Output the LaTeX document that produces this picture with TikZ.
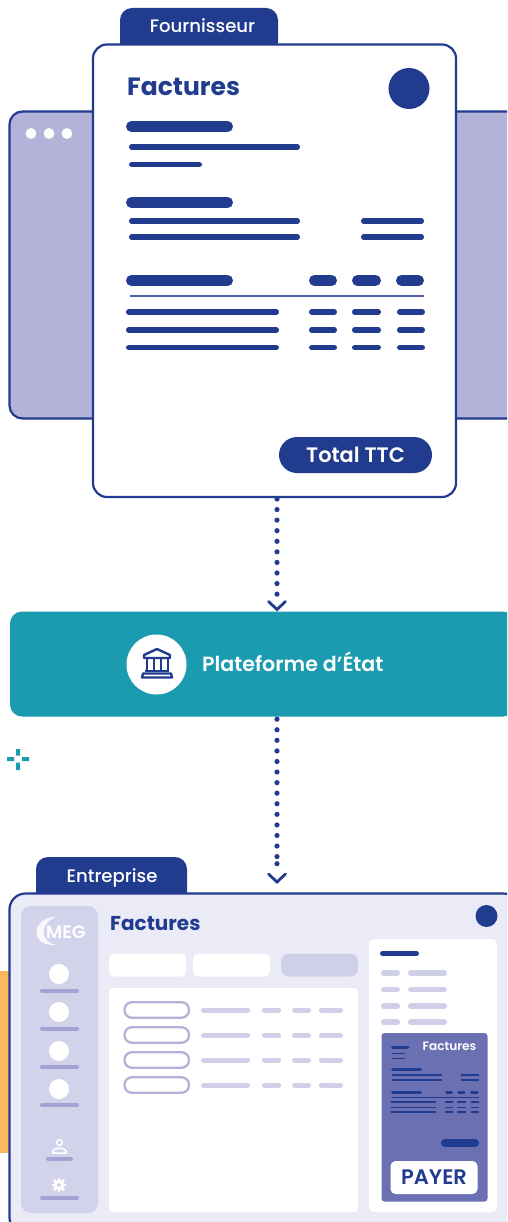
\documentclass[tikz,border=0pt]{standalone}
\usepackage{fontspec}
\setmainfont{Poppins}
\newfontfamily\medfont{Poppins Medium}
\newfontfamily\semifont{Poppins SemiBold}
\definecolor{navy}{HTML}{213B8F}
\definecolor{lav}{HTML}{B3B3D9}
\definecolor{teal}{HTML}{1A9BB0}
\definecolor{paleb}{HTML}{EBEBF7}
\definecolor{sideb}{HTML}{D2D2EA}
\definecolor{softb}{HTML}{CFCFE8}
\definecolor{midb}{HTML}{A3A3D3}
\definecolor{cardb}{HTML}{6B70B3}
\definecolor{orangeb}{HTML}{FDB85C}
\newcommand{\hb}[5]{\draw[#5,line width=#4pt,line cap=round] ({#1+#4/2},#3) -- ({#2-#4/2},#3);}
\tikzset{
  panel/.style={draw=navy,line width=2.2pt,inner sep=0pt,outer sep=0pt},
  tabshape/.style={fill=navy},
  tablabel/.style={text=white,inner sep=0pt,anchor=base,font=\medfont\fontsize{18.1}{20}\selectfont},
  dotline/.style={navy,line width=5.2pt,line cap=round,dash pattern=on 0pt off 10.57pt},
  chevron/.style={draw=navy,line width=2.8pt,line cap=round,line join=miter},
  ttl/.style={text=navy,inner sep=0pt,anchor=base west},
}
\begin{document}
\begin{tikzpicture}[x=1pt,y=-1pt]
\path[use as bounding box,clip] (0,0) rectangle (507,1222);
\fill[white] (0,0) rectangle (507,1222);

% back window
\node[panel,fill=lav,rounded corners=13pt,minimum width=510pt,minimum height=307pt] (win) at (264.5,265) {};
\foreach \xx in {31,49,67}{\fill[white] (\xx,133.5) circle (5.4);}

% supplier tab
\fill[tabshape] (120,50) [rounded corners=12pt] -- (120,8) -- (278,8) [sharp corners] -- (278,50) -- cycle;
\node[tablabel] (tabf) at (202.5,33) {Fournisseur};

% invoice
\node[panel,fill=white,rounded corners=14pt,minimum width=363pt,minimum height=452.5pt] (doc) at (274.5,270.75) {};
\node[ttl,font=\bfseries\fontsize{25}{28}\selectfont] (doct) at (127,96) {Factures};
\fill[navy] (409,88.5) circle (20.5);
\hb{126}{233}{126.5}{11}{navy}
\hb{129}{300}{147}{5.5}{navy}
\hb{129}{202}{164.5}{5.5}{navy}
\hb{126}{233}{202.5}{11}{navy}
\hb{129}{300}{221}{5.5}{navy}
\hb{129}{300}{237}{5.5}{navy}
\hb{361}{424}{221}{5.5}{navy}
\hb{361}{424}{237}{5.5}{navy}
\hb{126}{233}{280.5}{11}{navy}
\hb{309}{337}{280.5}{11}{navy}
\hb{352}{381}{280.5}{11}{navy}
\hb{396}{424}{280.5}{11}{navy}
\draw[navy!80,line width=1.2pt] (130,296) -- (424,296);
\foreach \yy in {312,330,347.5}{
  \hb{126}{279}{\yy}{5.5}{navy}
  \hb{309}{337}{\yy}{5.5}{navy}
  \hb{352}{381}{\yy}{5.5}{navy}
  \hb{397}{425}{\yy}{5.5}{navy}
}
\node[fill=navy,text=white,rounded corners=18pt,inner sep=0pt,minimum width=153pt,minimum height=36pt,font=\semifont\fontsize{20.9}{22}\selectfont] (total) at (355.5,455) {Total TTC};

% platform
\node[fill=teal,rounded corners=12pt,inner sep=0pt,minimum width=505pt,minimum height=105pt] (plat) at (262.5,664) {};
\node[fill=white,circle,inner sep=0pt,minimum size=60pt] (platc) at (156.5,664.5) {};
\node[text=white,inner sep=0pt,anchor=base west,font=\semifont\fontsize{20.6}{22}\selectfont] (platt) at (202,671) {Plateforme d’État};
\begin{scope}[navy,line width=2.4pt,line join=round]
\draw (144,655) -- (157,649) -- (170,655) -- (170,658) -- (144,658) -- cycle;
\foreach \xx in {147,154,161,168}{\draw[line width=2.8pt] (\xx,658) -- (\xx,671);}
\draw (145,671) -- (169,671);
\draw (143,673.5) -- (171,673.5) -- (172,677.5) -- (142,677.5) -- cycle;
\end{scope}

% connectors
\coordinate (axis) at (277,0);
\draw[dotline] (axis |- doc.south) ++(0,2) -- ([yshift=13pt]axis |- plat.north);
\coordinate (chev1) at (277,609.5);
\draw[chevron] ([shift={(-8.5,-8)}]chev1) -- (chev1) -- ([shift={(8.5,-8)}]chev1);
\draw[dotline] (axis |- plat.south) ++(0,2.5) -- (277,858);
\fill[navy] (277,863.7) circle (2.6);
\coordinate (chev2) at (277,882);
\draw[chevron] ([shift={(-8.5,-8)}]chev2) -- (chev2) -- ([shift={(8.5,-8)}]chev2);

% sparkle
\fill[teal] (16,749) rectangle (20,755.7) (16,762.7) rectangle (20,770) (7,757) rectangle (14,761) (22,757) rectangle (29,761);

% orange strip
\fill[orangeb] (0,971) rectangle (10,1153);

% company tab
\fill[tabshape] (36,898) [rounded corners=12pt] -- (36,857) -- (187,857) [sharp corners] -- (187,898) -- cycle;
\node[tablabel] (tabe) at (112,882) {Entreprise};

% app window
\node[panel,fill=paleb,rounded corners=16pt,minimum width=510pt,minimum height=340pt] (app) at (264.5,1063.5) {};
\node[fill=sideb,rounded corners=10pt,inner sep=0pt,minimum width=77pt,minimum height=307pt] (side) at (59.5,1059.5) {};
\fill[white,opacity=.85] (56,917) .. controls (31,917) and (29,947) .. (56,945) .. controls (42,943) and (37,925) .. (56,917) -- cycle;
\node[text=white,inner sep=0pt,font=\semifont\fontsize{18}{19}\selectfont] (meg) at (66,932) {MEG};
\foreach \yy/\bb in {974/991,1012/1028.5,1051/1067,1089/1105}{
  \fill[white] (59,\yy) circle (10);
  \hb{40}{79}{\bb}{4}{midb}
}
\draw[white,line width=1.5pt] (59.5,1142.5) circle (2.8);
\draw[white,line width=1.5pt,line join=round] (52.5,1153) .. controls (52.5,1146.5) and (66.5,1146.5) .. (66.5,1153) -- cycle;
\hb{46}{73}{1158.5}{4}{midb}
\draw[white,line width=3pt] (59,1185) circle (3.7);
\foreach \aa in {0,45,...,315}{\draw[white,line width=2.6pt] (59,1185) ++(\aa:4.5) -- ++(\aa:2.6);}
\hb{40}{79}{1198}{4}{midb}

\node[ttl,font=\bfseries\fontsize{20}{22}\selectfont] (appt) at (110,930) {Factures};
\fill[navy] (486.5,916) circle (11);
\fill[white,rounded corners=5pt] (109,953.5) rectangle (186,976.5);
\fill[white,rounded corners=5pt] (193,953.5) rectangle (270,976.5);
\fill[softb,rounded corners=8pt] (281,953.5) rectangle (358,976.5);
\fill[white,rounded corners=4pt] (109,988) rectangle (358,1212);
\foreach \yy in {1010,1035,1060,1085}{
  \draw[lav,line width=2.3pt,rounded corners=7.5pt] (124.5,\yy-7.8) rectangle (189,\yy+7.8);
  \hb{201}{250}{\yy}{5}{softb}
  \hb{262}{281}{\yy}{5}{softb}
  \hb{292}{311}{\yy}{5}{softb}
  \hb{319}{343}{\yy}{5}{softb}
}

% side panel
\fill[white,rounded corners=5pt] (369,939) rectangle (497,1212);
\hb{380}{419}{953.5}{5}{navy}
\foreach \yy in {973,989.5,1006,1022}{
  \hb{381}{400}{\yy}{5.5}{softb}
  \hb{408}{447}{\yy}{5.5}{softb}
}
\fill[cardb,rounded corners=3pt] (381.5,1033) rectangle (487.5,1201.5);
\node[text=white,inner sep=0pt,anchor=base west,font=\semifont\fontsize{12.1}{13}\selectfont] (cardt) at (422.5,1050) {Factures};
\hb{391}{409.5}{1047}{3}{navy}
\draw[navy,line width=1pt] (392,1053) -- (405,1053) (392,1058.5) -- (405,1058.5);
\hb{391}{422}{1069.5}{3}{navy}
\draw[navy,line width=1.2pt] (392,1075) -- (442,1075) (392,1080) -- (442,1080) (461,1075) -- (479,1075) (461,1080) -- (479,1080);
\hb{391}{422}{1092.5}{3}{navy}
\hb{445}{453}{1092.5}{3}{navy}
\hb{457}{465.5}{1092.5}{3}{navy}
\hb{470}{478.5}{1092.5}{3}{navy}
\draw[navy,line width=.8pt] (392,1097.5) -- (479,1097.5);
\foreach \yy in {1102,1107.5,1112}{
  \draw[navy,line width=1.2pt] (391,\yy) -- (436,\yy) (445,\yy) -- (453,\yy) (457,\yy) -- (466,\yy) (471,\yy) -- (479,\yy);
}
\hb{441}{479}{1143}{8}{navy}
\node[fill=white,text=navy,rounded corners=5pt,inner sep=0pt,minimum width=87pt,minimum height=33pt,font=\semifont\fontsize{21}{22}\selectfont] (payer) at (434,1177.5) {PAYER};
\end{tikzpicture}
\end{document}
